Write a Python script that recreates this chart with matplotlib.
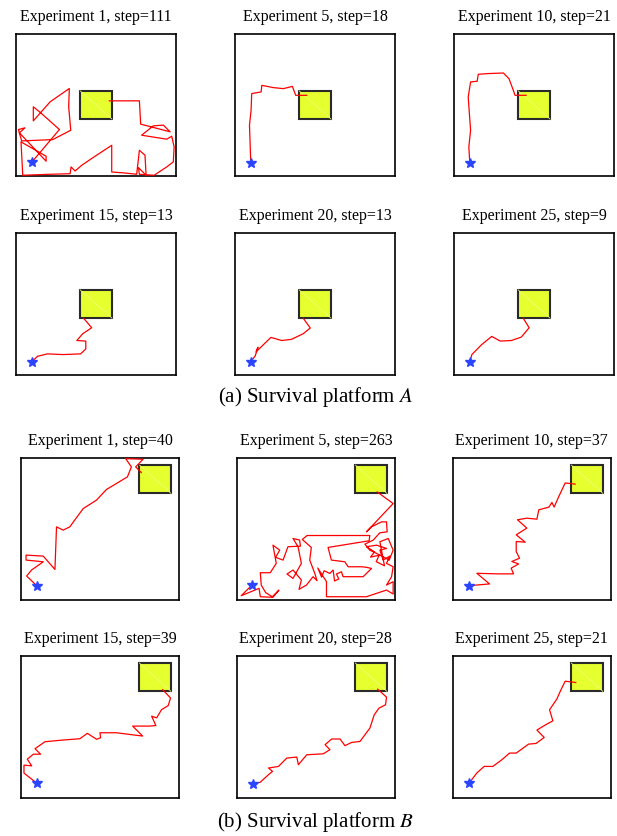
import numpy as np
import matplotlib.pyplot as plt
from matplotlib.patches import Rectangle

plt.rcParams['font.family'] = ['Liberation Serif', 'DejaVu Serif']
plt.rcParams['mathtext.fontset'] = 'stix'

experiments = [1, 5, 10, 15, 20, 25]
steps_a = [111, 18, 21, 13, 13, 9]
steps_b = [40, 263, 37, 39, 28, 21]

# platform: (x, y, size) in arena units (0..100)
platform_a = (40, 40, 20)
platform_b = (75, 75, 20)

# swim paths, platform A
path_a1 = [(10.0, 9.9), (27.1, 32.7), (15.4, 44.5), (10.8, 48.7), (10.8, 38.8), (21.3, 52.2),
           (33.3, 61.6), (32.9, 48.7), (34.2, 32.2), (22.9, 25.6), (3.5, 24.7), (1.5, 32.7),
           (5.6, 33.9), (2.1, 30.4), (18.8, 10.4), (18.8, 13.9), (3.1, 24.0), (4.2, 0.5),
           (21.3, 1.2), (33.8, 1.6), (34.4, 6.4), (36.9, 3.5), (41.0, 7.5), (49.4, 13.9),
           (59.8, 21.6), (59.8, 2.8), (68.1, 2.1), (75.4, 1.2), (77.1, 18.1), (80.6, 14.6),
           (81.3, 0.5), (76.5, 5.9), (77.1, 1.2), (86.3, 0.5), (94.2, 6.4), (98.3, 9.9),
           (98.8, 20.5), (97.3, 28.0), (94.2, 25.9), (78.5, 28.7), (85.8, 35.3), (92.1, 35.8),
           (96.3, 31.1), (77.9, 36.5), (77.1, 52.9), (58.3, 52.9)]
path_a5 = [(9.8, 9.4), (9.4, 22.8), (9.0, 35.7), (10.0, 46.2), (10.4, 58.0), (16.3, 59.2),
           (16.7, 63.8), (24.0, 62.2), (30.2, 61.5), (35.8, 63.1), (37.9, 56.8), (44.8, 56.8)]
path_a10 = [(9.8, 9.4), (9.2, 20.4), (10.3, 32.2), (9.4, 46.2), (8.8, 55.6), (10.3, 66.2),
            (14.4, 66.7), (15.1, 71.6), (21.3, 72.1), (30.8, 72.5), (34.3, 68.5), (37.0, 60.3),
            (38.1, 56.8), (45.0, 56.8)]
path_a15 = [(9.8, 9.5), (13.5, 13.2), (19.6, 14.9), (29.4, 14.4), (40.4, 14.9), (43.6, 18.4),
            (43.6, 23.9), (38.0, 24.3), (41.7, 29.1), (47.3, 33.3), (42.2, 40.0)]
path_a20 = [(9.9, 9.5), (12.6, 13.5), (14.3, 19.6), (13.1, 16.3), (22.4, 26.5), (29.1, 24.3),
            (35.2, 25.1), (42.6, 29.1), (47.0, 33.1), (42.6, 40.0)]
path_a25 = [(9.9, 9.5), (11.1, 14.4), (17.3, 21.5), (23.5, 27.2), (28.9, 23.9), (35.8, 24.3),
            (42.0, 26.7), (46.9, 33.3), (43.2, 40.0)]

# swim paths, platform B
path_b1 = [(9.9, 10.1), (3.6, 16.9), (6.7, 21.1), (14.1, 26.9), (3.2, 28.1), (3.2, 31.6),
           (14.1, 30.9), (21.5, 21.5), (22.5, 51.5), (26.7, 49.2), (30.9, 51.5), (39.4, 64.4),
           (47.8, 70.3), (54.1, 77.8), (60.4, 82.0), (67.4, 86.7), (69.9, 93.7), (66.3, 99.5),
           (77.3, 99.1), (72.6, 93.7), (76.2, 89.7)]
path_b5 = [(9.5, 10.5), (2.7, 3.0), (14.0, 8.2), (14.8, 2.3), (22.8, 1.9), (26.6, 7.0),
           (22.4, 2.3), (18.2, 5.2), (15.4, 10.5), (14.8, 19.2), (21.1, 19.2), (24.9, 25.8),
           (22.8, 38.6), (27.1, 35.1), (24.5, 30.0), (29.2, 28.1), (32.3, 37.5), (40.2, 37.9),
           (39.7, 42.2), (35.5, 43.3), (38.7, 37.5), (40.8, 25.8), (35.5, 15.2), (31.7, 18.3),
           (35.5, 21.1), (40.8, 14.1), (39.3, 7.5), (44.0, 10.5), (48.2, 16.4), (50.7, 13.6),
           (49.3, 18.7), (46.1, 28.1), (47.1, 37.0), (41.4, 42.6), (44.4, 45.4), (84.1, 45.4),
           (83.7, 41.7), (57.7, 37.0), (59.8, 28.1), (68.3, 26.9), (70.4, 23.4), (78.9, 23.4),
           (82.0, 23.0), (85.2, 22.2), (79.9, 16.4), (67.2, 16.4), (66.2, 19.9), (63.0, 18.3),
           (64.5, 14.8), (61.8, 13.4), (60.9, 21.1), (58.8, 18.7), (55.2, 20.6), (53.6, 16.1),
           (51.2, 22.5), (56.7, 12.9), (56.7, 2.3), (82.0, 2.3), (94.7, 7.0),
           (98.9, 4.2), (98.9, 12.9), (94.7, 10.5), (97.9, 16.4), (98.9, 23.4), (94.7, 25.8),
           (96.8, 30.9), (92.6, 28.1), (90.5, 35.1), (94.7, 36.3), (88.4, 38.6), (82.0, 37.5),
           (87.1, 33.9), (84.6, 30.2), (90.0, 31.5), (88.2, 27.0), (93.4, 24.1),
           (90.5, 41.0), (95.8, 43.3), (98.9, 35.1), (96.4, 28.1), (92.6, 30.4), (88.4, 32.8),
           (84.1, 35.1), (81.0, 39.3), (86.3, 42.2), (90.5, 47.3), (95.1, 48.0), (94.7, 55.0),
           (91.5, 55.0), (85.2, 51.5), (82.0, 48.0), (98.9, 67.9), (88.8, 76.1)]
path_b10 = [(10.3, 10.1), (23.2, 11.3), (15.2, 18.8), (27.8, 18.4), (38.4, 18.4), (36.9, 22.4),
            (41.6, 25.4), (37.3, 27.1), (42.2, 29.4), (40.1, 34.1), (40.1, 41.2), (45.8, 40.7),
            (40.1, 45.9), (46.8, 50.6), (40.9, 56.5), (46.8, 57.6), (53.2, 56.9), (54.4, 63.5),
            (60.8, 65.4), (62.7, 68.7), (64.1, 65.4), (66.9, 72.5), (71.1, 82.4), (77.4, 81.6)]
path_b15 = [(9.9, 10.5), (1.9, 17.5), (1.9, 23.1), (6.8, 22.6), (4.0, 27.3), (7.8, 30.8),
            (12.4, 30.8), (8.9, 34.7), (15.2, 39.6), (26.8, 40.8), (37.3, 41.7), (42.0, 45.5),
            (47.9, 41.3), (50.4, 42.4), (50.0, 45.9), (60.5, 45.9), (73.2, 44.1), (77.0, 43.6),
            (70.7, 50.6), (81.6, 50.6), (85.4, 51.0), (82.7, 57.6), (85.9, 56.4), (89.0, 62.2),
            (93.2, 65.0), (94.7, 70.4), (89.7, 76.2)]
path_b20 = [(10.1, 10.1), (14.7, 11.0), (20.0, 16.4), (22.5, 18.7), (20.0, 21.1), (26.3, 22.2),
            (31.6, 28.1), (37.9, 28.8), (38.9, 23.4), (44.2, 30.4), (54.7, 31.1), (58.9, 34.0),
            (55.8, 37.5), (60.0, 41.5), (65.3, 41.5), (68.4, 36.8), (72.6, 39.1), (77.9, 39.8),
            (84.2, 49.2), (86.9, 58.5), (89.9, 63.2), (94.1, 65.6), (94.7, 71.0), (89.1, 76.6)]
path_b25 = [(10.3, 10.5), (15.2, 17.6), (19.8, 22.2), (25.3, 22.2), (31.0, 26.9), (35.9, 31.6),
            (40.1, 31.6), (47.9, 37.9), (52.7, 38.4), (57.8, 42.6), (53.2, 47.8), (58.4, 51.3),
            (63.3, 54.3), (61.2, 62.1), (65.8, 69.6), (68.4, 76.1), (71.1, 82.2), (77.8, 81.3)]

paths_a = [path_a1, path_a5, path_a10, path_a15, path_a20, path_a25]
paths_b = [path_b1, path_b5, path_b10, path_b15, path_b20, path_b25]


def draw_panel(ax, path, plat, title):
    px, py, size = plat
    ax.add_patch(Rectangle((px, py), size, size, facecolor='#e6ff2e',
                           edgecolor='#2a2a2a', linewidth=1.5, zorder=2))
    # faint diagonal seam seen on the platform
    ax.plot([px, px + size], [py + size, py], color='#f0ff80', lw=0.5, zorder=2.5)
    xs = [p[0] for p in path]
    ys = [p[1] for p in path]
    ax.plot(xs, ys, color='red', lw=0.9, zorder=3)
    ax.plot(xs[0], ys[0], marker='*', color='#2b45ff', ms=7, zorder=4, linestyle='none')
    ax.set_xlim(0, 100)
    ax.set_ylim(0, 100)
    ax.set_xticks([])
    ax.set_yticks([])
    for s in ax.spines.values():
        s.set_linewidth(1.2)
    ax.set_title(title, fontsize=11.5, pad=9)


fig = plt.figure(figsize=(6.17, 8.36), dpi=100)

rows = [0.7895, 0.5514, 0.2823, 0.0455]
cols_a = [0.026, 0.381, 0.736]
cols_b = [0.034, 0.384, 0.734]
h = 0.1699

for i in range(6):
    r, c = divmod(i, 3)
    ax = fig.add_axes([cols_a[c], rows[r], 0.2593, h])
    draw_panel(ax, paths_a[i], platform_a, f'Experiment {experiments[i]}, step={steps_a[i]}')
    ax = fig.add_axes([cols_b[c], rows[r + 2], 0.256, h])
    draw_panel(ax, paths_b[i], platform_b, f'Experiment {experiments[i]}, step={steps_b[i]}')

fig.text(0.512, 0.525, r'(a) Survival platform $A$', ha='center', va='center', fontsize=15)
fig.text(0.512, 0.0167, r'(b) Survival platform $B$', ha='center', va='center', fontsize=15)

fig.savefig('out.png', dpi=100)
